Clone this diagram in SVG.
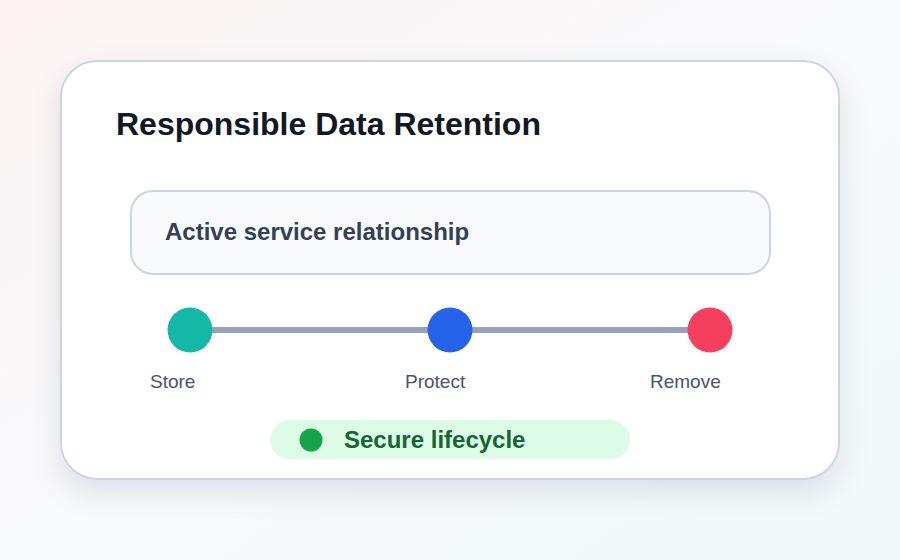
<svg xmlns="http://www.w3.org/2000/svg" width="900" height="560" viewBox="0 0 900 560">
<defs>
<linearGradient id="bg" x1="0" y1="0" x2="1" y2="1">
<stop offset="0" stop-color="#fcf4f4"/>
<stop offset="0.5" stop-color="#f8f9fb"/>
<stop offset="1" stop-color="#f1f9fb"/>
</linearGradient>
<filter id="shadow" x="-20%" y="-20%" width="140%" height="150%">
<feDropShadow dx="0" dy="12" stdDeviation="14" flood-color="#0f172a" flood-opacity="0.10"/>
</filter>
</defs>
<style>
.t{font-family:"Liberation Sans",Arial,sans-serif}
.title{font-size:32px;font-weight:bold;fill:#111827}
.box{font-size:24px;font-weight:bold;fill:#334155}
.lbl{font-size:19px;fill:#475569}
.pill{font-size:24px;font-weight:bold;fill:#166534}
</style>
<rect width="900" height="560" fill="url(#bg)"/>
<g id="card">
<rect x="61" y="61" width="778" height="418" rx="36" fill="#ffffff" stroke="#cbd5e1" stroke-width="2" filter="url(#shadow)"/>
<text class="t title" x="116" y="135">Responsible Data Retention</text>
</g>
<g id="active">
<rect x="131" y="191" width="639" height="83" rx="22" fill="#f8fafc" stroke="#cbd5e1" stroke-width="2"/>
<text class="t box" x="165" y="240">Active service relationship</text>
</g>
<g id="connectors">
<line x1="190" y1="330" x2="450" y2="330" stroke="#94a3b8" stroke-width="6"/>
<line x1="450" y1="330" x2="710" y2="330" stroke="#94a3b8" stroke-width="6"/>
</g>
<g id="store">
<circle cx="190" cy="330" r="22.5" fill="#14b8a6"/>
<text class="t lbl" x="150" y="388">Store</text>
</g>
<g id="protect">
<circle cx="450" cy="330" r="22.5" fill="#2563eb"/>
<text class="t lbl" x="405" y="388">Protect</text>
</g>
<g id="remove">
<circle cx="710" cy="330" r="22.5" fill="#f43f5e"/>
<text class="t lbl" x="650" y="388">Remove</text>
</g>
<g id="status">
<rect x="270" y="420" width="360" height="39" rx="19.5" fill="#dcfce7"/>
<circle cx="311" cy="440" r="11.5" fill="#16a34a"/>
<text class="t pill" x="344" y="448">Secure lifecycle</text>
</g>
</svg>
